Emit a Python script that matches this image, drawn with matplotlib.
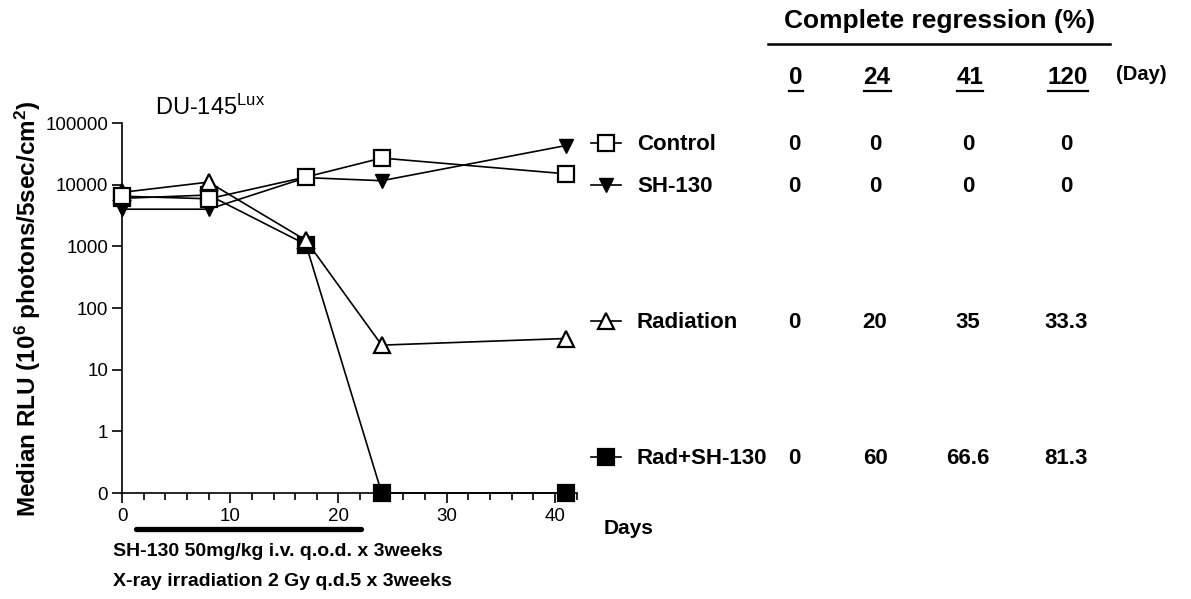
import numpy as np
import matplotlib
matplotlib.use("Agg")
import matplotlib.pyplot as plt
from matplotlib.ticker import FixedLocator, MultipleLocator, FixedFormatter

plt.rcParams['font.family'] = ['Liberation Sans', 'DejaVu Sans']
plt.rcParams['mathtext.fontset'] = 'custom'
plt.rcParams['mathtext.rm'] = 'Liberation Sans'
plt.rcParams['mathtext.bf'] = 'Liberation Sans:bold'
plt.rcParams['mathtext.it'] = 'Liberation Sans:italic'

# ---------------- data ----------------
days = [0, 8, 17, 24, 41]
control = [6500, 5900, 13300, 27000, 15000]
sh130 = [4000, 4000, 13000, 11600, 43000]
radiation = [7500, 11000, 1250, 25, 32]
rad_sh130 = [6000, 6800, 1070, 0, 0]

y_ticks = [0, 1, 10, 100, 1000, 10000, 100000]
y_tick_labels = ["0", "1", "10", "100", "1000", "10000", "100000"]
x_ticks = [0, 10, 20, 30, 40]

groups = ["Control", "SH-130", "Radiation", "Rad+SH-130"]
regression_days = ["0", "24", "41", "120"]
regression_pct = [
    ["0", "0", "0", "0"],
    ["0", "0", "0", "0"],
    ["0", "20", "35", "33.3"],
    ["0", "60", "66.6", "81.3"],
]
treatment_start, treatment_end = 1.3, 22.1

# ---------------- figure ----------------
W, H = 1191, 599
fig = plt.figure(figsize=(W / 100, H / 100), dpi=100)

# overlay in pixel coordinates for annotations
ov = fig.add_axes([0, 0, 1, 1], zorder=0)
ov.set_xlim(0, W)
ov.set_ylim(H, 0)
ov.axis('off')

ax = fig.add_axes([122 / W, 1 - 493 / H, 454.5 / W, 370 / H], zorder=1)
ax.patch.set_alpha(0)


def fwd(y):
    y = np.asarray(y, dtype=float)
    return np.log10(np.maximum(y, 0.1))


def inv(v):
    return 10 ** np.asarray(v, dtype=float)


ax.set_yscale('function', functions=(fwd, inv))
ax.set_ylim(0, 100000)
ax.set_xlim(0, 42)

lw = 1.2
ms_sq = 11
mew = 1.6
styles = [
    (control, dict(marker='s', mfc='white', mec='black', ms=ms_sq, mew=mew)),
    (sh130, dict(marker='v', mfc='black', mec='black', ms=10, mew=1)),
    (radiation, dict(marker='^', mfc='white', mec='black', ms=12, mew=mew)),
    (rad_sh130, dict(marker='s', mfc='black', mec='black', ms=ms_sq, mew=mew)),
]
order = [3, 2, 1, 0]
for i in order:
    vals, st = styles[i]
    ax.plot(days, vals, color='black', lw=lw, clip_on=False, zorder=3 + (3 - i), **st)

for s in ['top', 'right']:
    ax.spines[s].set_visible(False)
for s in ['left', 'bottom']:
    ax.spines[s].set_linewidth(1.2)

ax.yaxis.set_major_locator(FixedLocator(y_ticks))
ax.yaxis.set_major_formatter(FixedFormatter(y_tick_labels))
ax.yaxis.set_minor_locator(FixedLocator([]))
ax.xaxis.set_major_locator(FixedLocator(x_ticks))
ax.xaxis.set_minor_locator(MultipleLocator(2))
ax.tick_params(axis='both', which='major', direction='out', length=7, width=1.2,
               labelsize=13.5, pad=3)
ax.tick_params(axis='x', which='major', pad=4)
ax.tick_params(axis='x', which='minor', direction='out', length=5, width=1.2)

# title
ov.text(155, 107, r"DU-145$^{\mathrm{Lux}}$", fontsize=17, ha='left', va='center')

# y label
ov.text(28, 309, r"Median RLU (10$^{\mathbf{6}}$ photons/5sec/cm$^{\mathbf{2}}$)",
        fontsize=17.5, fontweight='bold', rotation=90, ha='center', va='center')

# Days label
ov.text(604, 529, "Days", fontsize=15, fontweight='bold', ha='left', va='center')

# treatment bar
x0 = ax.transData.transform((treatment_start, 0))[0]
x1 = ax.transData.transform((treatment_end, 0))[0]
ov.plot([x0, x1], [529, 529], color='black', lw=3.8, solid_capstyle='round')

narrow = ['Liberation Sans Narrow', 'Liberation Sans', 'DejaVu Sans']
ov.text(113, 552, "SH-130 50mg/kg i.v. q.o.d. x 3weeks", fontsize=14,
        fontweight='bold', family=narrow, ha='left', va='center')
ov.text(113, 582, "X-ray irradiation 2 Gy q.d.5 x 3weeks", fontsize=14,
        fontweight='bold', family=narrow, ha='left', va='center')

# legend glyphs
row_y = [143, 185, 321, 457]
for (vals, st), y in zip(styles, row_y):
    ov.plot([591, 621], [y, y], color='black', lw=lw)
    ov.plot([606], [y], color='black', lw=0, **st)
for g, y in zip(groups, row_y):
    ov.text(637, y + 1, g, fontsize=16, fontweight='bold', ha='left', va='center')

# table
col_x = [794, 875, 968, 1066]
for r, y in zip(regression_pct, row_y):
    for v, x in zip(r, col_x):
        ov.text(x, y + 1, v, fontsize=16, fontweight='bold', ha='center', va='center')

ov.text(940, 21, "Complete regression (%)", fontsize=19, fontweight='bold',
        ha='center', va='center')
ov.plot([768, 1110], [44, 44], color='black', lw=1.8)

hdr = []
for d, x in zip(regression_days, col_x):
    hdr.append(ov.text(x + 2, 77, d, fontsize=17.5, fontweight='bold', ha='center', va='center'))
ov.text(1141, 75, "(Day)", fontsize=14.5, fontweight='bold', ha='center', va='center')

fig.canvas.draw()
r = fig.canvas.get_renderer()
for t in hdr:
    bb = t.get_window_extent(renderer=r)
    ov.plot([bb.x0, bb.x1], [91, 91], color='black', lw=1.6)

fig.savefig("out.png", dpi=100)
